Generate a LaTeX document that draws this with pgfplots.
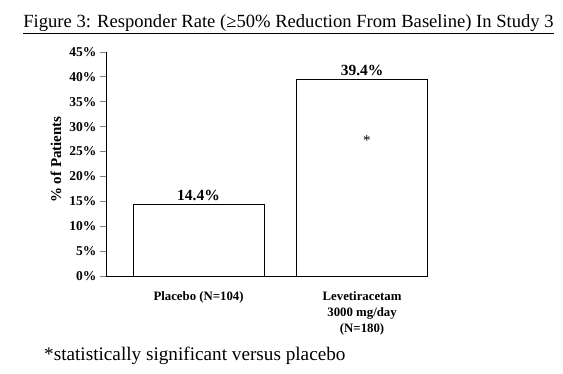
\documentclass[border=0pt]{standalone}
\usepackage{pgfplots}
\pgfplotsset{compat=1.18}
\usepackage{fontspec}
\setmainfont{Liberation Serif}
\begin{document}
\begin{tikzpicture}
\path[use as bounding box] (0,0) rectangle (563bp,374bp);
\node[font=\fontsize{18.6bp}{21bp}\selectfont, inner sep=0pt] at (288.5bp,350bp) {\underline{Figure 3: Responder Rate (≥50\% Reduction From Baseline) In Study 3}};
\node[font=\fontsize{19.2bp}{21bp}\selectfont, anchor=west, inner sep=0pt] at (44bp,18bp) {*statistically significant versus placebo};
\begin{axis}[
  at={(106bp,98bp)}, anchor=south west,
  scale only axis, width=321.5bp, height=224bp,
  axis lines=left, axis line style={-, line width=0.8pt},
  xmin=-0.566, xmax=1.40, ymin=0, ymax=45,
  ybar, bar width=131bp,
  xtick={0,1},
  xticklabels={{Placebo (N=104)},{Levetiracetam\\3000 mg/day\\(N=180)}},
  xticklabel style={align=center, font=\fontsize{12.8bp}{16bp}\selectfont\bfseries, yshift=-6bp},
  xtick style={draw=none},
  ytick={0,5,...,45},
  yticklabels={0\%,5\%,10\%,15\%,20\%,25\%,30\%,35\%,40\%,45\%},
  yticklabel style={font=\fontsize{13.5bp}{14bp}\selectfont\bfseries},
  ytick style={line width=0.8pt},
  tick align=outside, major tick length=6bp,
  ylabel={\% of Patients},
  ylabel style={at={(axis description cs:-0.156,0.52)}, anchor=center, font=\fontsize{15bp}{17bp}\selectfont\bfseries},
  point meta=explicit symbolic,
  nodes near coords,
  nodes near coords style={font=\fontsize{15.5bp}{17bp}\selectfont\bfseries, yshift=0bp},
  clip=false,
]
\addplot[fill=white, draw=black, line width=0.8pt] coordinates {(0,14.4) [14.4\%] (1,39.4) [39.4\%]};
\node[font=\fontsize{15bp}{16bp}\selectfont] at (axis cs:1.03,27.3) {*};
\end{axis}
\end{tikzpicture}
\end{document}
